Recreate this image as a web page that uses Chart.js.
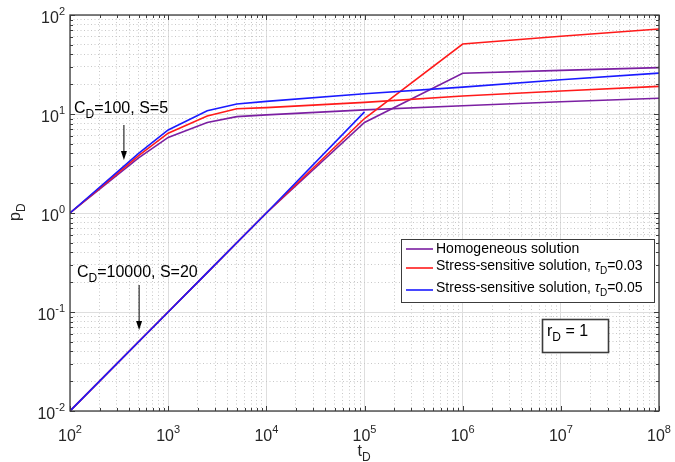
<!DOCTYPE html>
<html>
<head>
<meta charset="utf-8">
<script src="https://cdn.jsdelivr.net/npm/chart.js@4/dist/chart.umd.min.js"></script>
<style>
  html, body { margin: 0; padding: 0; background: #fff; }
  canvas { display: block; }
</style>
</head>
<body>
<canvas id="pdChart" width="675" height="462"></canvas>
<script>
// Dimensionless time samples (same grid for every curve)
const tD = [1e2, 5e2, 1e3, 2.5e3, 5e3, 1e4, 1e5, 1e6, 1e7, 1e8];

// C_D = 100, S = 5
const cd100Homo  = [1.0, 3.6, 5.8, 8.2, 9.4, 9.8, 11.0, 12.1, 13.3, 14.4];
const cd100Tau03 = [1.0, 3.8, 6.4, 9.55, 11.3, 11.6, 13.1, 15.2, 17.1, 19.0];
const cd100Tau05 = [1.0, 4.0, 6.9, 10.8, 12.6, 13.4, 16.0, 18.7, 22.2, 25.9];

// C_D = 10000, S = 20
const cd1e4Homo  = [0.01, 0.05, 0.1, 0.25, 0.5, 1.0, 8.2, 25.8, 27.6, 29.4];
const cd1e4Tau03 = [0.01, 0.05, 0.1, 0.25, 0.5, 1.0, 9.0, 50.9, 61.0, 72.3];
const cd1e4Tau05 = [0.01, 0.05, 0.1, 0.25, 0.5, 1.0, 10.5, null, null, null];

// Axis decades (tick labels are 10^k)
const xDecades = [2, 3, 4, 5, 6, 7, 8];
const yDecades = [-2, -1, 0, 1, 2];

const PURPLE = '#7b1fa2';
const RED = '#ff1a1a';
const BLUE = '#1a1aff';
const FONT = "'Liberation Sans', Arial, sans-serif";

// 1..9 x 10^k inside the decade range
function makeTicks(decades) {
    const out = [];
    for (let i = 0; i < decades.length; i++) {
        const base = Math.pow(10, decades[i]);
        if (i === decades.length - 1) { out.push({ value: base, major: true }); break; }
        for (let m = 1; m <= 9; m++) out.push({ value: m * base, major: m === 1 });
    }
    return out;
}

function toPoints(vals) {
    return tD.map((t, i) => ({ x: t, y: vals[i] })).filter(p => p.y !== null);
}

function line(label, vals, color, order, legend) {
    return {
        label, data: toPoints(vals), borderColor: color, backgroundColor: color,
        borderWidth: 1.6, pointRadius: 0, showLine: true, tension: 0,
        order, inLegend: legend
    };
}

// draw "base" + subscript + "rest", returns end x
function drawSub(ctx, base, sub, rest, x, y, size) {
    ctx.textAlign = 'left';
    ctx.textBaseline = 'alphabetic';
    ctx.font = `${size}px ${FONT}`;
    ctx.fillText(base, x, y);
    x += ctx.measureText(base).width;
    const sSize = Math.round(size * 0.72);
    ctx.font = `${sSize}px ${FONT}`;
    ctx.fillText(sub, x, y + size * 0.33);
    x += ctx.measureText(sub).width;
    ctx.font = `${size}px ${FONT}`;
    ctx.fillText(rest, x, y);
    return x + ctx.measureText(rest).width;
}

function powerLabel(ctx, exp, x, y, align) {
    const big = 16, small = 11;
    const e = exp < 0 ? '-' + Math.abs(exp) : String(exp);
    ctx.font = `${big}px ${FONT}`;
    const wb = ctx.measureText('10').width;
    ctx.font = `${small}px ${FONT}`;
    const we = ctx.measureText(e).width;
    const x0 = align === 'center' ? x - (wb + we) / 2 : x - (wb + we);
    ctx.textAlign = 'left';
    ctx.textBaseline = 'alphabetic';
    ctx.font = `${big}px ${FONT}`;
    ctx.fillText('10', x0, y);
    ctx.font = `${small}px ${FONT}`;
    ctx.fillText(e, x0 + wb, y - 8);
}

function arrowDown(ctx, x, y1, y2) {
    ctx.strokeStyle = '#000';
    ctx.fillStyle = '#000';
    ctx.lineWidth = 1;
    ctx.beginPath();
    ctx.moveTo(x, y1);
    ctx.lineTo(x, y2 - 6);
    ctx.stroke();
    ctx.beginPath();
    ctx.moveTo(x - 3, y2 - 9);
    ctx.lineTo(x + 3, y2 - 9);
    ctx.lineTo(x, y2);
    ctx.closePath();
    ctx.fill();
}

const decorations = {
    id: 'decorations',
    afterDraw(chart) {
        const ctx = chart.ctx;
        const { left, right, top, bottom } = chart.chartArea;
        const xs = chart.scales.x, ys = chart.scales.y;
        ctx.save();

        // box with inward ticks
        ctx.strokeStyle = '#3c3c3c';
        ctx.lineWidth = 1.3;
        ctx.strokeRect(left, top, right - left, bottom - top);
        ctx.lineWidth = 1;
        ctx.beginPath();
        xs.ticks.forEach(t => {
            const px = Math.round(xs.getPixelForValue(t.value)) + 0.5;
            const len = t.major ? 5 : 3;
            ctx.moveTo(px, bottom); ctx.lineTo(px, bottom - len);
            ctx.moveTo(px, top); ctx.lineTo(px, top + len);
        });
        ys.ticks.forEach(t => {
            const py = Math.round(ys.getPixelForValue(t.value)) + 0.5;
            const len = t.major ? 5 : 3;
            ctx.moveTo(left, py); ctx.lineTo(left + len, py);
            ctx.moveTo(right, py); ctx.lineTo(right - len, py);
        });
        ctx.stroke();

        // tick labels
        ctx.fillStyle = '#262626';
        xDecades.forEach(k => powerLabel(ctx, k, xs.getPixelForValue(Math.pow(10, k)), bottom + 30, 'center'));
        yDecades.forEach(k => powerLabel(ctx, k, left - 5, ys.getPixelForValue(Math.pow(10, k)) + 8, 'right'));

        // axis titles
        drawSub(ctx, 't', 'D', '', (left + right) / 2 - 7, bottom + 45, 16);
        ctx.save();
        ctx.translate(20, (top + bottom) / 2 + 8);
        ctx.rotate(-Math.PI / 2);
        drawSub(ctx, 'p', 'D', '', 0, 0, 16);
        ctx.restore();

        // annotations
        ctx.fillStyle = '#000';
        drawSub(ctx, 'C', 'D', '=100, S=5', 74, 113, 16);
        arrowDown(ctx, xs.getPixelForValue(350) + 0.5, 125, 160);
        drawSub(ctx, 'C', 'D', '=10000, S=20', 77, 277, 16);
        arrowDown(ctx, xs.getPixelForValue(500) + 0.5, 285, 330);

        // legend
        const lx = 401, ly = 239, lw = 253, lh = 63;
        ctx.fillStyle = '#fff';
        ctx.fillRect(lx, ly, lw, lh);
        ctx.strokeStyle = '#3c3c3c';
        ctx.lineWidth = 1;
        ctx.strokeRect(lx + 0.5, ly + 0.5, lw, lh);
        const rows = [
            { lineY: 249, baseY: 252.5 },
            { lineY: 268, baseY: 269.5 },
            { lineY: 290, baseY: 291.5 }
        ];
        const legendSets = chart.data.datasets.filter(d => d.inLegend)
            .sort((a, b) => b.order - a.order);
        legendSets.forEach((ds, i) => {
            const r = rows[i];
            ctx.strokeStyle = ds.borderColor;
            ctx.lineWidth = 1.6;
            ctx.beginPath();
            ctx.moveTo(406, r.lineY); ctx.lineTo(433, r.lineY);
            ctx.stroke();
            ctx.fillStyle = '#000';
            const parts = ds.label.split('|');
            ctx.font = `14px ${FONT}`;
            ctx.textAlign = 'left';
            ctx.fillText(parts[0], 436, r.baseY);
            if (parts.length > 1) {
                let x = 436 + ctx.measureText(parts[0]).width;
                ctx.font = `italic 14px ${FONT}`;
                ctx.fillText('τ', x, r.baseY);
                x += ctx.measureText('τ').width;
                drawSub(ctx, '', 'D', parts[1], x, r.baseY, 14);
            }
        });

        // r_D box
        ctx.fillStyle = '#fff';
        ctx.fillRect(542, 319, 66, 33);
        ctx.strokeStyle = '#3c3c3c';
        ctx.strokeRect(542.5, 319.5, 66, 33);
        ctx.fillStyle = '#000';
        drawSub(ctx, 'r', 'D', ' = 1', 547, 336, 16);

        ctx.restore();
    }
};

function initChart() {
    const ctx = document.getElementById('pdChart').getContext('2d');

    const gridColor = c => (c.tick && c.tick.major) ? '#dedede' : '#c8c8c8';
    const gridDash = c => (c.tick && !c.tick.major) ? [1, 2.5] : [];

    new Chart(ctx, {
        type: 'scatter',
        data: {
            datasets: [
                line('Homogeneous solution', cd100Homo, PURPLE, 2, true),
                line('Stress-sensitive solution, |=0.03', cd100Tau03, RED, 1, true),
                line('Stress-sensitive solution, |=0.05', cd100Tau05, BLUE, 0, true),
                line('Homogeneous, CD=10000', cd1e4Homo, PURPLE, 2, false),
                line('tau 0.03, CD=10000', cd1e4Tau03, RED, 1, false),
                line('tau 0.05, CD=10000', cd1e4Tau05, BLUE, 0, false)
            ]
        },
        options: {
            responsive: false,
            animation: false,
            layout: { padding: { top: 15, right: 16, left: 0, bottom: 0 } },
            plugins: {
                legend: { display: false },
                tooltip: { enabled: false }
            },
            scales: {
                x: {
                    type: 'logarithmic',
                    min: 1e2, max: 1e8,
                    afterBuildTicks: s => { s.ticks = makeTicks(xDecades); },
                    afterFit: s => { s.height = 51; },
                    ticks: { display: false },
                    grid: { color: gridColor, lineWidth: 1, drawTicks: false },
                    border: { display: false, dash: gridDash }
                },
                y: {
                    type: 'logarithmic',
                    min: 1e-2, max: 1e2,
                    afterBuildTicks: s => { s.ticks = makeTicks(yDecades); },
                    afterFit: s => { s.width = 70; },
                    ticks: { display: false },
                    grid: { color: gridColor, lineWidth: 1, drawTicks: false },
                    border: { display: false, dash: gridDash }
                }
            }
        },
        plugins: [decorations]
    });
}

document.addEventListener('DOMContentLoaded', initChart);
</script>
</body>
</html>
